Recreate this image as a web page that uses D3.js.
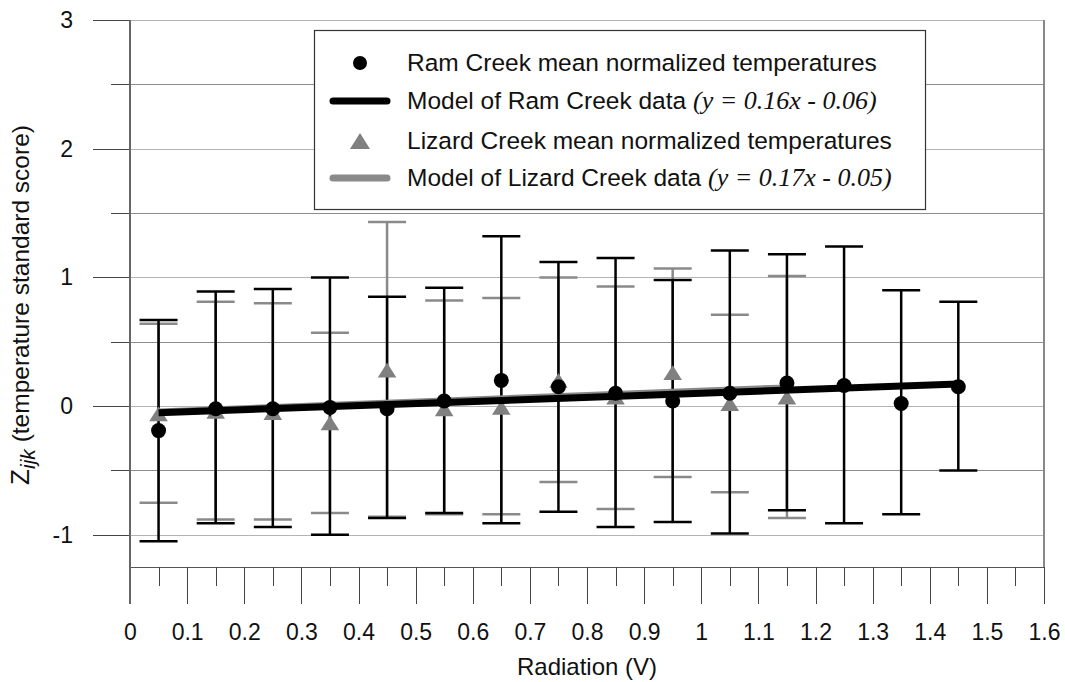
<!DOCTYPE html>
<meta charset="utf-8">
<style>
body { margin: 0; background: #fff; }
text { font-family: "Liberation Sans", Arial, sans-serif; fill: #111; }
.grid line { stroke: #a8a8a8; stroke-width: 1px; shape-rendering: crispEdges; }
.axis path, .axis line { stroke: #444; shape-rendering: crispEdges; }
</style>
<body>
<script src="https://cdnjs.cloudflare.com/ajax/libs/d3/7.8.5/d3.min.js"></script>
<script>
// chart data
var ramX = [0.05, 0.15, 0.25, 0.35, 0.45, 0.55, 0.65, 0.75, 0.85, 0.95, 1.05, 1.15, 1.25, 1.35, 1.45];
var ramMean = [-0.19, -0.02, -0.02, -0.01, -0.02, 0.04, 0.2, 0.15, 0.1, 0.04, 0.1, 0.18, 0.16, 0.02, 0.15];
var ramHigh = [0.67, 0.89, 0.91, 1.0, 0.85, 0.92, 1.32, 1.12, 1.15, 0.98, 1.21, 1.18, 1.24, 0.9, 0.81];
var ramLow = [-1.05, -0.91, -0.94, -1.0, -0.87, -0.83, -0.91, -0.82, -0.94, -0.9, -0.99, -0.81, -0.91, -0.84, -0.5];

var lizX = [0.05, 0.15, 0.25, 0.35, 0.45, 0.55, 0.65, 0.75, 0.85, 0.95, 1.05, 1.15];
var lizMean = [-0.06, -0.04, -0.05, -0.13, 0.28, -0.02, -0.01, 0.2, 0.07, 0.26, 0.02, 0.07];
var lizHigh = [0.64, 0.81, 0.8, 0.57, 1.43, 0.82, 0.84, 1.0, 0.93, 1.07, 0.71, 1.01];
var lizLow = [-0.75, -0.88, -0.88, -0.83, -0.86, -0.84, -0.84, -0.59, -0.8, -0.55, -0.67, -0.87];

var ramFit = [0.16, -0.06];   // slope, intercept
var lizFit = [0.17, -0.05];

var xTicks = [0, 0.1, 0.2, 0.3, 0.4, 0.5, 0.6, 0.7, 0.8, 0.9, 1, 1.1, 1.2, 1.3, 1.4, 1.5, 1.6];
var xMinor = [0.05, 0.15, 0.25, 0.35, 0.45, 0.55, 0.65, 0.75, 0.85, 0.95, 1.05, 1.15, 1.25, 1.35, 1.45, 1.55];
var yTicks = [-1, 0, 1, 2, 3];
var yMinor = [-0.5, 0.5, 1.5, 2.5];
var yGrid = [-1, -0.5, 0, 0.5, 1, 1.5, 2, 2.5, 3];

var legendLabels = ["Ram Creek mean normalized temperatures", "Model of Ram Creek data ",
  "Lizard Creek mean normalized temperatures", "Model of Lizard Creek data "];
var legendEq = ["", "(y = 0.16x - 0.06)", "", "(y = 0.17x - 0.05)"];

// dimensions
var W = 1065, H = 682;
var x = d3.scaleLinear().domain([0, 1.6]).range([130, 1044]);
var y = d3.scaleLinear().domain([-1.25, 3]).range([567, 20]);

var svg = d3.select("body").append("svg")
    .attr("width", W)
    .attr("height", H);

// flatter triangle like the original marker
var flatTriangle = {
  draw: function(ctx, size) {
    var w = Math.sqrt(size) * 1.2, h = w * 0.8;
    ctx.moveTo(0, -h / 2);
    ctx.lineTo(w / 2, h / 2);
    ctx.lineTo(-w / 2, h / 2);
    ctx.closePath();
  }
};

// gridlines
svg.append("g")
    .attr("class", "grid")
    .selectAll("line")
    .data(yGrid)
  .enter().append("line")
    .attr("x1", x(0)).attr("x2", x(1.6))
    .attr("y1", function(d) { return Math.round(y(d)) + 0.5; })
    .attr("y2", function(d) { return Math.round(y(d)) + 0.5; })
    .style("stroke", function(d) { return d % 1 === 0 ? "#b4b4b4" : "#8c8c8c"; });

// frame: bottom and right
svg.append("line")
    .attr("x1", x(0)).attr("x2", x(1.6))
    .attr("y1", y(-1.25)).attr("y2", y(-1.25))
    .attr("stroke", "#555").attr("shape-rendering", "crispEdges");
svg.append("line")
    .attr("x1", x(1.6)).attr("x2", x(1.6))
    .attr("y1", y(3)).attr("y2", y(-1.25))
    .attr("stroke", "#888").attr("stroke-width", 2).attr("shape-rendering", "crispEdges");

// x axis (major ticks with labels, minor without)
var xAxis = svg.append("g")
    .attr("class", "axis")
    .attr("transform", "translate(0," + y(-1.25) + ")")
    .call(d3.axisBottom(x).tickValues(xTicks).tickSize(37).tickPadding(20)
        .tickFormat(function(d) { return String(d); }));
xAxis.select(".domain").remove();
xAxis.selectAll("text").style("font-size", "23px").attr("fill", "#111");
svg.append("g")
    .attr("class", "axis")
    .attr("transform", "translate(0," + y(-1.25) + ")")
    .call(d3.axisBottom(x).tickValues(xMinor).tickSize(19).tickFormat(""))
  .select(".domain").remove();

// y axis
var yAxis = svg.append("g")
    .attr("class", "axis")
    .attr("transform", "translate(" + x(0) + ",0)")
    .call(d3.axisLeft(y).tickValues(yTicks).tickSize(37).tickPadding(20)
        .tickFormat(function(d) { return String(d); }));
yAxis.select(".domain").remove();
yAxis.selectAll("text").style("font-size", "23px").attr("fill", "#111");
svg.append("g")
    .attr("class", "axis")
    .attr("transform", "translate(" + x(0) + ",0)")
    .call(d3.axisLeft(y).tickValues(yMinor).tickSize(19).tickFormat(""))
  .select(".domain").remove();
svg.append("line")
    .attr("x1", x(0)).attr("x2", x(0))
    .attr("y1", y(3)).attr("y2", y(-1.25) + 37)
    .attr("stroke", "#666").attr("stroke-width", 2).attr("shape-rendering", "crispEdges");

// axis titles
svg.append("text")
    .attr("x", (x(0) + x(1.6)) / 2)
    .attr("y", 675)
    .attr("text-anchor", "middle")
    .style("font-size", "24px")
    .text("Radiation (V)");

var yt = svg.append("text")
    .attr("transform", "translate(29,305) rotate(-90)")
    .attr("text-anchor", "middle")
    .style("font-size", "24.5px");
yt.append("tspan").style("font-size", "26px").text("Z");
yt.append("tspan").attr("dy", 6).style("font-style", "italic").style("font-size", "21px").text("ijk");
yt.append("tspan").attr("dy", -6).text(" (temperature standard score)");

// error bars
function errorBars(xs, lo, hi, color, sw) {
  var g = svg.append("g").attr("stroke", color).attr("stroke-width", sw);
  xs.forEach(function(d, i) {
    g.append("line").attr("x1", x(d)).attr("x2", x(d)).attr("y1", y(hi[i])).attr("y2", y(lo[i]));
    g.append("line").attr("x1", x(d) - 19).attr("x2", x(d) + 19).attr("y1", y(hi[i])).attr("y2", y(hi[i]));
    g.append("line").attr("x1", x(d) - 19).attr("x2", x(d) + 19).attr("y1", y(lo[i])).attr("y2", y(lo[i]));
  });
}
errorBars(lizX, lizLow, lizHigh, "#8a8a8a", 2.5);
errorBars(ramX, ramLow, ramHigh, "#000", 2.5);

// lizard triangles
var tri = d3.symbol().type(flatTriangle).size(240);
svg.append("g").selectAll("path")
    .data(lizX)
  .enter().append("path")
    .attr("d", tri)
    .attr("fill", "#808080")
    .attr("transform", function(d, i) { return "translate(" + x(d) + "," + y(lizMean[i]) + ")"; });

// model lines
var fitLine = d3.line()
    .x(function(d) { return x(d[0]); })
    .y(function(d) { return y(d[1]); });
svg.append("path")
    .datum([lizX[0], lizX[lizX.length - 1]].map(function(v) { return [v, lizFit[0] * v + lizFit[1]]; }))
    .attr("d", fitLine)
    .attr("fill", "none").attr("stroke", "#8a8a8a").attr("stroke-width", 6);
svg.append("path")
    .datum([ramX[0], ramX[ramX.length - 1]].map(function(v) { return [v, ramFit[0] * v + ramFit[1]]; }))
    .attr("d", fitLine)
    .attr("fill", "none").attr("stroke", "#000").attr("stroke-width", 7);

// ram circles
svg.append("g").selectAll("circle")
    .data(ramX)
  .enter().append("circle")
    .attr("r", 7.5)
    .attr("fill", "#000")
    .attr("cx", function(d) { return x(d); })
    .attr("cy", function(d, i) { return y(ramMean[i]); });

// legend
var lg = svg.append("g");
lg.append("rect")
    .attr("x", 314.5).attr("y", 30.5).attr("width", 611).attr("height", 179)
    .attr("fill", "#fff").attr("stroke", "#333").attr("stroke-width", 1.2);
var rowY = [63, 101, 141, 178];
legendLabels.forEach(function(lab, i) {
  var cy = rowY[i];
  if (i === 0) lg.append("circle").attr("cx", 360).attr("cy", cy).attr("r", 7).attr("fill", "#000");
  if (i === 2) lg.append("path").attr("d", d3.symbol().type(flatTriangle).size(280)).attr("fill", "#808080")
      .attr("transform", "translate(360," + cy + ")");
  if (i === 1 || i === 3) lg.append("line").attr("x1", 333).attr("x2", 387).attr("y1", cy).attr("y2", cy)
      .attr("stroke", i === 1 ? "#000" : "#8a8a8a").attr("stroke-width", 7).attr("stroke-linecap", "round");
  var t = lg.append("text").attr("x", 407).attr("y", cy + 8).style("font-size", "24.5px").text(lab);
  if (legendEq[i]) t.append("tspan")
      .style("font-family", "'Liberation Serif', 'Times New Roman', serif")
      .style("font-style", "italic").style("font-size", "26px")
      .text(legendEq[i]);
});
</script>
</body>
